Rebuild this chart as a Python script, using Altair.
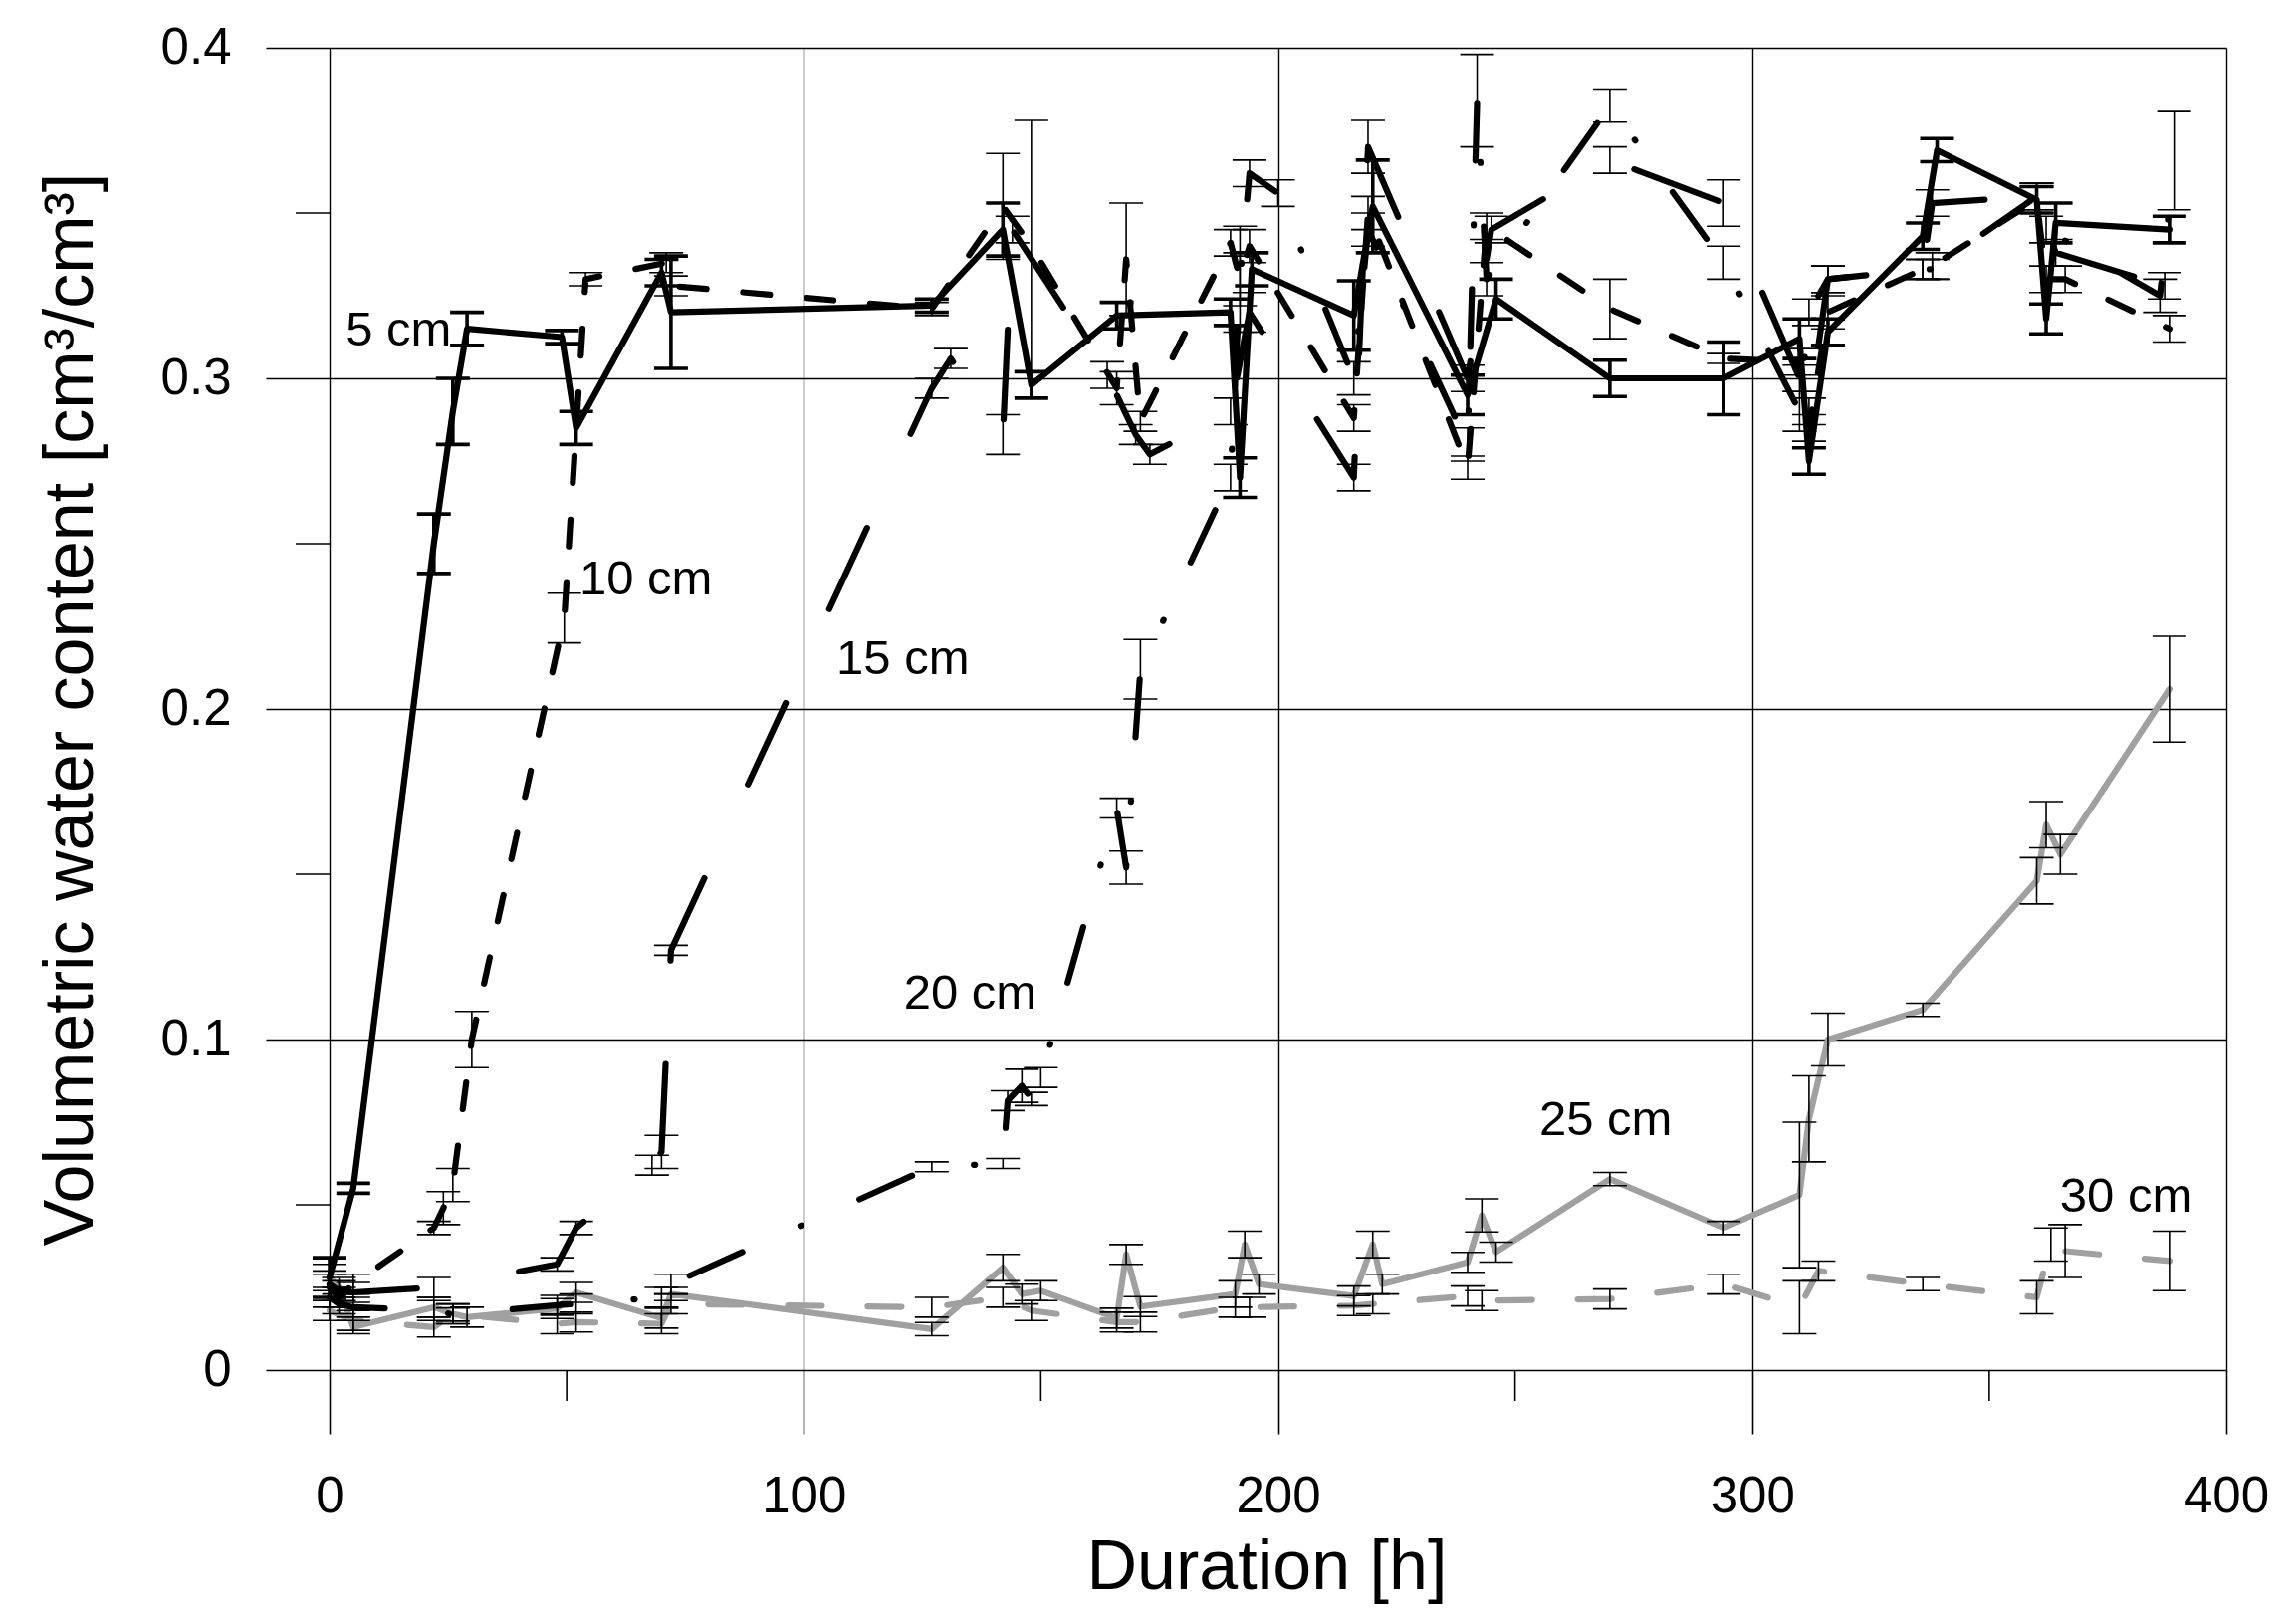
import altair as alt
import pandas as pd

# ---------------- data ----------------
t5 = [0, 5, 22, 26, 29, 49, 52, 70, 72, 127,
      142, 148, 166, 190, 192, 194.5, 216, 220, 240, 246,
      270, 294, 310, 312, 316, 336, 339, 360, 362, 364,
      388]
v5 = [0.028, 0.055, 0.250, 0.290, 0.315, 0.3125, 0.285, 0.332, 0.320, 0.322,
      0.345, 0.298, 0.319, 0.320, 0.270, 0.333, 0.319, 0.352, 0.295, 0.324,
      0.300, 0.300, 0.312, 0.275, 0.314, 0.343, 0.369, 0.354, 0.318, 0.347,
      0.345]
e5 = [0.006, 0.0015, 0.009, 0.010, 0.005, 0.002, 0.005, 0.004, 0.017, 0.002,
      0.008, 0.004, 0.004, 0.004, 0.006, 0.005, 0.0105, 0.014, 0.006, 0.006,
      0.0055, 0.011, 0.006, 0.004, 0.004, 0.004, 0.0035, 0.004, 0.0045, 0.006,
      0.004]

t10 = [0, 2, 5, 22, 24, 26, 30, 49.5, 54, 71,
       72, 127, 142, 148, 166, 168, 171, 190, 192, 194,
       216, 219, 240, 244, 270, 294, 310, 312, 316, 336,
       338, 360, 362, 366, 388]
v10 = [0.025, 0.022, 0.026, 0.043, 0.049, 0.056, 0.100, 0.2275, 0.330, 0.335,
       0.328, 0.321, 0.352, 0.340, 0.297, 0.336, 0.287, 0.341, 0.330, 0.340,
       0.288, 0.350, 0.273, 0.346, 0.321, 0.306, 0.305, 0.285, 0.320, 0.333,
       0.334, 0.354, 0.330, 0.330, 0.315]
e10 = [0.004, 0.003, 0.003, 0.002, 0.005, 0.005, 0.0085, 0.0075, 0.002, 0.003,
       0.003, 0.002, 0.016, 0.038, 0.005, 0.017, 0.003, 0.004, 0.016, 0.005,
       0.004, 0.005, 0.0035, 0.004, 0.009, 0.0015, 0.004, 0.004, 0.005, 0.003,
       0.004, 0.004, 0.004, 0.004, 0.004]

t15 = [0, 2, 5, 22, 48, 52, 68, 70, 72, 127,
       131, 142, 144, 164, 170, 173, 190, 194, 216, 219,
       240, 245, 270, 294, 310, 312, 316, 336, 338, 360,
       364, 387]
v15 = [0.026, 0.024, 0.0235, 0.025, 0.032, 0.043, 0.062, 0.066, 0.127, 0.297,
       0.306, 0.283, 0.345, 0.301, 0.283, 0.277, 0.290, 0.320, 0.270, 0.370,
       0.300, 0.345, 0.366, 0.353, 0.300, 0.290, 0.330, 0.333, 0.353, 0.355,
       0.338, 0.328]
e15 = [0.004, 0.003, 0.003, 0.003, 0.002, 0.002, 0.003, 0.005, 0.0015, 0.003,
       0.003, 0.006, 0.004, 0.004, 0.003, 0.003, 0.004, 0.006, 0.004, 0.008,
       0.004, 0.004, 0.004, 0.007, 0.004, 0.004, 0.004, 0.003, 0.004, 0.004,
       0.004, 0.004]

t20 = [0, 2, 5, 22, 26, 48, 52, 70, 72, 127,
       142, 143, 146, 148, 150, 166, 168, 171, 190, 192,
       194, 200, 216, 219, 240, 242, 244, 270, 294, 310,
       312, 316, 336, 338, 360, 362, 386, 389]
v20 = [0.022, 0.020, 0.019, 0.018, 0.0168, 0.0196, 0.020, 0.022, 0.026, 0.0615,
       0.0625, 0.0815, 0.086, 0.082, 0.0885, 0.170, 0.152, 0.212, 0.270, 0.330,
       0.362, 0.356, 0.300, 0.345, 0.280, 0.384, 0.330, 0.3825, 0.335, 0.290,
       0.320, 0.330, 0.333, 0.333, 0.355, 0.345, 0.325, 0.366]
e20 = [0.003, 0.003, 0.003, 0.003, 0.002, 0.003, 0.003, 0.003, 0.003, 0.0015,
       0.0015, 0.003, 0.005, 0.002, 0.003, 0.003, 0.005, 0.009, 0.004, 0.008,
       0.004, 0.004, 0.005, 0.005, 0.005, 0.014, 0.005, 0.005, 0.005, 0.006,
       0.004, 0.004, 0.003, 0.003, 0.004, 0.004, 0.005, 0.015]

t25 = [0, 2, 5, 22, 26, 29, 48, 52, 70, 72,
       127, 142, 146, 150, 166, 168, 171, 191, 193, 196,
       216, 220, 222, 240, 243, 246, 270, 294, 310, 312,
       316, 336, 360, 362, 365, 388]
v25 = [0.028, 0.025, 0.013, 0.019, 0.017, 0.016, 0.0186, 0.0235, 0.0157, 0.023,
       0.0124, 0.031, 0.023, 0.024, 0.0157, 0.035, 0.0192, 0.023, 0.038, 0.026,
       0.0224, 0.038, 0.026, 0.0326, 0.0468, 0.0357, 0.0578, 0.043, 0.053, 0.076,
       0.100, 0.109, 0.148, 0.165, 0.156, 0.206]
e25 = [0.004, 0.003, 0.002, 0.003, 0.003, 0.003, 0.003, 0.003, 0.003, 0.002,
       0.002, 0.004, 0.003, 0.003, 0.003, 0.003, 0.003, 0.004, 0.004, 0.003,
       0.003, 0.004, 0.003, 0.003, 0.005, 0.003, 0.002, 0.002, 0.022, 0.013,
       0.008, 0.002, 0.007, 0.007, 0.006, 0.016]

t30 = [0, 5, 22, 26, 48, 52, 70, 72, 127, 142,
       148, 166, 171, 191, 194, 216, 220, 240, 243, 270,
       294, 310, 314, 336, 360, 363, 366, 388]
v30 = [0.018, 0.015, 0.013, 0.017, 0.014, 0.0145, 0.014, 0.020, 0.019, 0.022,
       0.018, 0.0145, 0.0145, 0.019, 0.019, 0.0195, 0.020, 0.0224, 0.021, 0.0215,
       0.026, 0.019, 0.030, 0.026, 0.022, 0.038, 0.036, 0.033]
e30 = [0.003, 0.003, 0.003, 0.003, 0.003, 0.003, 0.003, 0.003, 0.003, 0.003,
       0.003, 0.003, 0.003, 0.003, 0.003, 0.003, 0.003, 0.003, 0.003, 0.003,
       0.003, 0.008, 0.003, 0.002, 0.005, 0.005, 0.008, 0.009]

label_text = ["5 cm", "10 cm", "15 cm", "20 cm", "25 cm", "30 cm"]
label_t = [3.4, 52.7, 106.9, 121.1, 255.1, 364.9]
label_v = [0.3098, 0.2345, 0.2104, 0.1092, 0.0711, 0.048]

x_major = [0, 100, 200, 300, 400]
x_minor = [50, 150, 250, 350]
y_major = [0, 0.1, 0.2, 0.3, 0.4]
y_minor = [0.05, 0.15, 0.25, 0.35]

# ---------------- styling ----------------
W, H = 1905, 1328
FONT = "Liberation Sans, Arial, Helvetica, sans-serif"
GREY = "#a0a0a0"
LW = 6.2

styles = {
    "5 cm": dict(color="black", strokeWidth=LW),
    "10 cm": dict(color="black", strokeWidth=LW, strokeDash=[27, 37]),
    "15 cm": dict(color="black", strokeWidth=LW, strokeDash=[90, 104]),
    "20 cm": dict(color="black", strokeWidth=LW, strokeDash=[58, 64, 1, 64]),
    "25 cm": dict(color=GREY, strokeWidth=LW),
    "30 cm": dict(color=GREY, strokeWidth=LW, strokeDash=[34, 46]),
}

series = [("5 cm", t5, v5, e5), ("10 cm", t10, v10, e10), ("15 cm", t15, v15, e15),
          ("20 cm", t20, v20, e20), ("25 cm", t25, v25, e25), ("30 cm", t30, v30, e30)]

rows = []
for name, ts, vs, es in series:
    for t, v, e in zip(ts, vs, es):
        rows.append({"s": name, "t": t, "v": v, "lo": v - e, "hi": v + e})
df = pd.DataFrame(rows)

xscale = alt.Scale(domain=[0, 400], nice=False, zero=False)
yscale = alt.Scale(domain=[0, 0.4], nice=False, zero=False)

x_axis = alt.Axis(
    values=x_major, grid=True, gridColor="black", gridWidth=1.4, gridOpacity=1,
    domain=False, ticks=True, tickSize=64, tickColor="black", tickWidth=1.6,
    labelFont=FONT, labelFontSize=51, labelColor="black", labelPadding=38,
    labelFlush=False, labelOverlap=False,
    title="Duration [h]", titleFont=FONT, titleFontSize=70, titleFontWeight="normal",
    titleColor="black", titleX=941, titleY=219, titleBaseline="alphabetic",
    titleAlign="center",
)
y_axis = alt.Axis(
    values=y_major, grid=True, gridColor="black", gridWidth=1.4, gridOpacity=1,
    domain=False, ticks=True, tickSize=64, tickColor="black", tickWidth=1.6,
    labelFont=FONT, labelFontSize=51, labelColor="black", labelPadding=35,
    labelFlush=False, labelOverlap=False,
    labelExpr="datum.value == 0 ? '0' : format(datum.value, '.1f')",
    title="Volumetric water content [cm³/cm³]", titleFont=FONT, titleFontSize=70,
    titleFontWeight="normal", titleColor="black", titleX=-224, titleY=H / 2,
    titleAngle=270, titleBaseline="bottom", titleAlign="center",
)


def X(f):
    return alt.X(f, type="quantitative", scale=xscale, axis=x_axis)


def Y(f):
    return alt.Y(f, type="quantitative", scale=yscale, axis=y_axis)


layers = []

# minor ticks outside the frame
layers.append(
    alt.Chart(pd.DataFrame({"m": x_minor})).mark_rule(color="black", strokeWidth=1.6)
    .encode(x=X("m"), y=alt.value(H), y2=alt.value(H + 31))
)
layers.append(
    alt.Chart(pd.DataFrame({"m": y_minor})).mark_rule(color="black", strokeWidth=1.6)
    .encode(y=Y("m"), x=alt.value(-34), x2=alt.value(0))
)

# lines
for name in ["30 cm", "25 cm", "20 cm", "15 cm", "10 cm", "5 cm"]:
    layers.append(
        alt.Chart(df).transform_filter(alt.datum.s == name)
        .mark_line(strokeCap="round", strokeJoin="round", **styles[name])
        .encode(x=X("t"), y=Y("v"))
    )

# error bars
for cond, sw in [(alt.datum.s != "5 cm", 1.6), (alt.datum.s == "5 cm", 3.6)]:
    base = alt.Chart(df).transform_filter(cond)
    layers.append(base.mark_rule(color="black", strokeWidth=sw)
                  .encode(x=X("t"), y=Y("lo"), y2="hi"))
    for f in ["lo", "hi"]:
        layers.append(base.mark_rule(color="black", strokeWidth=sw, xOffset=-17, x2Offset=17)
                      .encode(x=X("t"), x2="t", y=Y(f)))

# depth labels
lab = pd.DataFrame({"txt": label_text, "t": label_t, "v": label_v})
layers.append(
    alt.Chart(lab).mark_text(align="left", baseline="alphabetic", font=FONT,
                             fontSize=49, color="black")
    .encode(x=X("t"), y=Y("v"), text="txt:N")
)

chart = (
    alt.layer(*layers)
    .properties(width=W, height=H,
                padding={"left": 323, "top": 40, "right": 60, "bottom": 240},
                autosize=alt.AutoSizeParams(type="none"))
    .configure_view(stroke="black", strokeWidth=4.5)
    .configure(background="white")
)

chart.save("out.html", embed_options={"renderer": "svg", "actions": False})
